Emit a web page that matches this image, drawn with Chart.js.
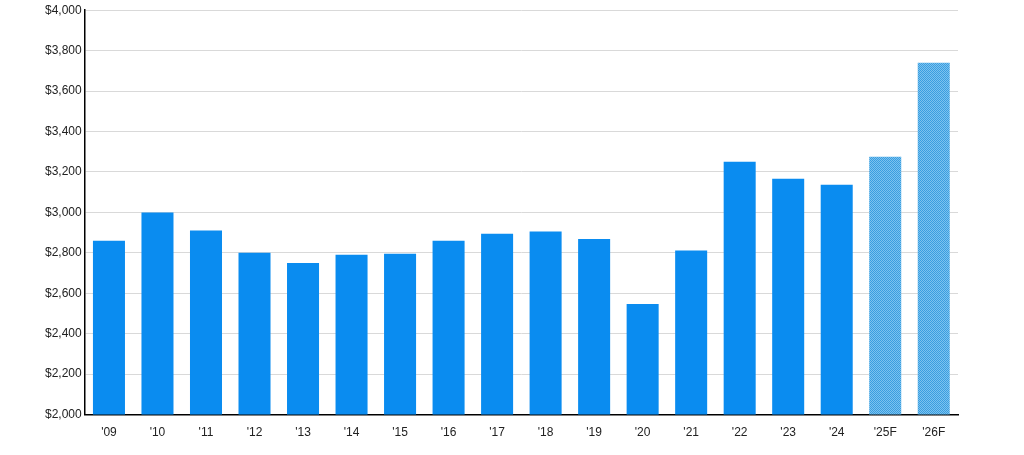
<!DOCTYPE html>
<html><head><script src="https://cdn.jsdelivr.net/npm/chart.js"></script>
<style>body{margin:0;background:#fff}#w{width:1024px;height:455px}</style></head>
<body><div id="w"><canvas id="c"></canvas></div>
<script>
const categories=["'09","'10","'11","'12","'13","'14","'15","'16","'17","'18","'19","'20","'21","'22","'23","'24","'25F","'26F"];
const values=[2860,3000,2910,2800,2750,2790,2795,2860,2895,2905,2868,2547,2812,3250,3167,3137,3275,3740];
const forecast=[false,false,false,false,false,false,false,false,false,false,false,false,false,false,false,false,true,true];
const pc=document.createElement('canvas');pc.width=2;pc.height=2;
const px=pc.getContext('2d');px.fillStyle='#7cc2ef';px.fillRect(0,0,2,2);px.fillStyle='#3a9ee0';px.fillRect(0,0,1,1);px.fillRect(1,1,1,1);
const pat=px.createPattern(pc,'repeat');
new Chart(document.getElementById('c'),{type:'bar',
data:{labels:categories,datasets:[{data:values,backgroundColor:forecast.map(f=>f?pat:'#0a8cf0'),categoryPercentage:0.66,barPercentage:1}]},
options:{responsive:true,maintainAspectRatio:false,animation:false,
layout:{padding:{left:42,right:66,top:8,bottom:12}},
plugins:{legend:{display:false},tooltip:{enabled:false}},
scales:{x:{grid:{display:false},border:{color:'#000',width:1.5},ticks:{color:'#222',font:{family:'Liberation Sans',size:12}}},
y:{min:2000,max:4000,ticks:{stepSize:200,color:'#222',font:{family:'Liberation Sans',size:12},callback:v=>'$'+v.toLocaleString('en-US')},
grid:{color:'#d9d9d9',drawTicks:false},border:{color:'#000',width:1.5}}}}});
</script></body></html>
